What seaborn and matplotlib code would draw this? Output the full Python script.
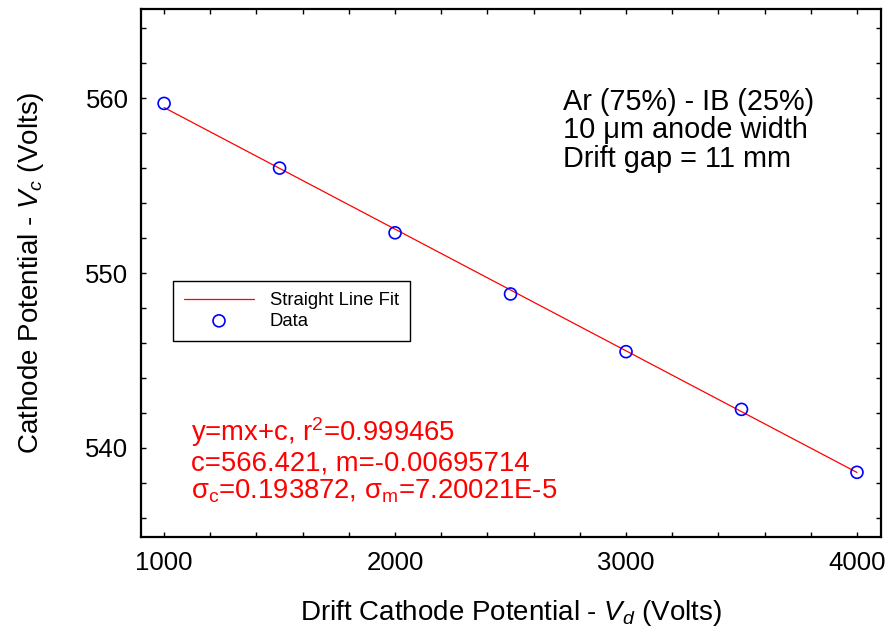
import matplotlib
matplotlib.use("Agg")
import matplotlib.pyplot as plt
from matplotlib.ticker import MultipleLocator
import numpy as np
import pandas as pd
import seaborn as sns

# ---- data ----
drift_potential = [1000, 1500, 2000, 2500, 3000, 3500, 4000]
cathode_potential = [559.7, 556.0, 552.3, 548.8, 545.5, 542.2, 538.6]
fit_c = 566.421
fit_m = -0.00695714
fit_x = [1000, 4000]
fit_y = [fit_c + fit_m * v for v in fit_x]

x_ticks = [1000, 2000, 3000, 4000]
y_ticks = [540, 550, 560]

info_lines = ["Ar (75%) - IB (25%)", "10 \u03bcm anode width", "Drift gap = 11 mm"]
fit_lines = [
    "y=mx+c, r$^\\mathregular{2}$=0.999465",
    "c=566.421, m=-0.00695714",
    "\u03c3$_\\mathregular{c}$=0.193872, \u03c3$_\\mathregular{m}$=7.20021E-5",
]

# ---- style ----
sns.set_theme(style="white")
plt.rcParams["font.family"] = ["Liberation Sans", "DejaVu Sans"]
plt.rcParams["mathtext.fontset"] = "custom"
plt.rcParams["mathtext.rm"] = "Liberation Sans"
plt.rcParams["mathtext.it"] = "Liberation Sans:italic"
plt.rcParams["mathtext.bf"] = "Liberation Sans:bold"
plt.rcParams["text.color"] = "black"
plt.rcParams["axes.labelcolor"] = "black"
plt.rcParams["xtick.color"] = "black"
plt.rcParams["ytick.color"] = "black"

fig = plt.figure(figsize=(8.91, 6.44), dpi=100)
ax = fig.add_axes([141 / 891, 1 - 537 / 644, 740 / 891, 528 / 644])

df_fit = pd.DataFrame({"x": fit_x, "y": fit_y})
df_data = pd.DataFrame({"x": drift_potential, "y": cathode_potential})

sns.lineplot(data=df_fit, x="x", y="y", color="#ff0000", linewidth=0.9,
             label="Straight Line Fit", ax=ax)
sns.scatterplot(data=df_data, x="x", y="y", marker="o", s=74,
                facecolor="none", edgecolor="#0000ff", linewidth=1.2,
                label="Data", ax=ax, zorder=3)

ax.set_xlim(900, 4104)
ax.set_ylim(534.9, 565.1)
ax.set_xticks(x_ticks)
ax.set_yticks(y_ticks)
ax.xaxis.set_minor_locator(MultipleLocator(200))
ax.yaxis.set_minor_locator(MultipleLocator(2))
ax.tick_params(which="both", direction="in", top=True, right=True,
               bottom=True, left=True, length=3.5, width=1, color="black")
ax.tick_params(axis="x", which="major", labelsize=18.5, pad=10,
               labelcolor="black")
ax.tick_params(axis="y", which="major", labelsize=18.5, pad=9,
               labelcolor="black")
for sp in ax.spines.values():
    sp.set_color("black")
    sp.set_linewidth(1.6)

ax.set_xlabel("Drift Cathode Potential - $\\mathit{V_d}$ (Volts)", fontsize=20,
              color="black")
ax.set_ylabel("Cathode Potential - $\\mathit{V_c}$ (Volts)", fontsize=20,
              color="black")
ax.xaxis.set_label_coords(0.5, -0.115)
ax.yaxis.set_label_coords(-0.128, 0.5)

leg = ax.legend(loc="upper left", bbox_to_anchor=(0.043, 0.485),
                fontsize=13.3, frameon=True, fancybox=False, edgecolor="black",
                framealpha=1, borderpad=0.6, labelspacing=0.2,
                handlelength=3.8, handletextpad=0.85, borderaxespad=0)
leg.get_frame().set_linewidth(1.0)
for t in leg.get_texts():
    t.set_color("black")

info_y = [0.809, 0.755, 0.701]
for txt, yy in zip(info_lines, info_y):
    ax.text(0.570, yy, txt, transform=ax.transAxes, fontsize=20.8,
            ha="left", va="baseline", color="black")

fit_y_pos = [0.1815, 0.1266, 0.0735]
for txt, yy in zip(fit_lines, fit_y_pos):
    ax.text(0.0676, yy, txt, transform=ax.transAxes, fontsize=19.8,
            ha="left", va="baseline", color="#ff0000")

fig.savefig("out.png", dpi=100)
